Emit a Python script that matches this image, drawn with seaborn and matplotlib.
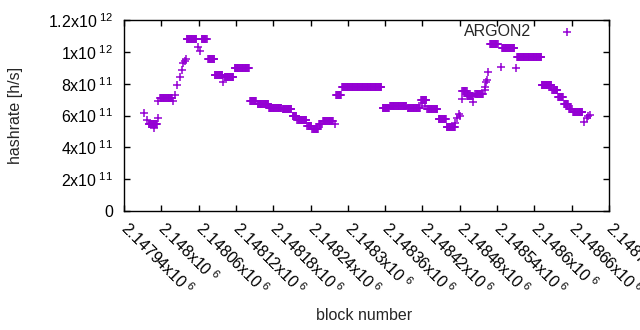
import numpy as np
import pandas as pd
import matplotlib
matplotlib.use("Agg")
import matplotlib.pyplot as plt
from matplotlib.ticker import FuncFormatter
import seaborn as sns

# Plateaus: first block, last block, hashrate (h/s) -- one point per block
run_first = [2147980, 2147998, 2148041, 2148065, 2148075, 2148086, 2148102,
             2148118, 2148143, 2148155, 2148173, 2148195, 2148211, 2148219,
             2148235, 2148243, 2148254, 2148260, 2148281, 2148291, 2148356,
             2148368, 2148396, 2148418, 2148428, 2148446, 2148459, 2148484,
             2148492, 2148505, 2148529, 2148548, 2148572, 2148612, 2148629,
             2148638, 2148648, 2148656, 2148662]
run_last = [2147993, 2148017, 2148056, 2148073, 2148085, 2148098, 2148115,
            2148141, 2148152, 2148172, 2148193, 2148209, 2148217, 2148233,
            2148241, 2148252, 2148258, 2148276, 2148289, 2148354, 2148366,
            2148394, 2148416, 2148426, 2148444, 2148458, 2148472, 2148491,
            2148501, 2148517, 2148541, 2148568, 2148611, 2148627, 2148637,
            2148646, 2148654, 2148660, 2148677]
run_rate = [5.45e11, 7.12e11, 10.80e11, 10.80e11, 9.53e11, 8.52e11, 8.42e11,
            8.96e11, 6.88e11, 6.71e11, 6.47e11, 6.40e11, 5.98e11, 5.72e11,
            5.33e11, 5.18e11, 5.45e11, 5.66e11, 7.28e11, 7.76e11, 6.45e11,
            6.62e11, 6.50e11, 6.95e11, 6.43e11, 5.75e11, 5.28e11, 7.54e11,
            7.25e11, 7.38e11, 10.50e11, 10.22e11, 9.69e11, 7.91e11, 7.60e11,
            7.16e11, 6.70e11, 6.42e11, 6.22e11]

# Single blocks between the plateaus
point_block = [2147972, 2147977, 2147988, 2147995, 2147994, 2148019, 2148022,
               2148025, 2148030, 2148033, 2148035, 2148038, 2148040, 2148059,
               2148063, 2148100, 2148116, 2148279, 2148420, 2148424, 2148473,
               2148475, 2148479, 2148481, 2148483, 2148502, 2148520, 2148521,
               2148522, 2148523, 2148526, 2148546, 2148570, 2148679, 2148684,
               2148687, 2148689]
point_rate = [6.14e11, 5.70e11, 5.22e11, 5.82e11, 6.93e11, 6.93e11, 7.29e11,
              7.91e11, 8.44e11, 8.86e11, 9.28e11, 9.40e11, 9.55e11, 10.32e11,
              10.05e11, 8.12e11, 8.44e11, 5.45e11, 6.80e11, 6.60e11, 5.55e11,
              5.85e11, 6.07e11, 5.95e11, 7.03e11, 6.83e11, 7.60e11, 7.80e11,
              8.10e11, 8.23e11, 8.75e11, 9.06e11, 8.96e11, 5.61e11, 5.82e11,
              5.99e11, 6.03e11]

y_ticks = [0, 2e11, 4e11, 6e11, 8e11, 1e12, 1.2e12]
y_tick_labels = ["0", "2x10$^{\\ 11}$", "4x10$^{\\ 11}$", "6x10$^{\\ 11}$",
                 "8x10$^{\\ 11}$", "1x10$^{\\ 12}$", "1.2x10$^{\\ 12}$"]
x_min, x_max, x_step = 2147940, 2148720, 60

PURPLE = "#9400D3"

# one row per block
blocks, rates = [], []
for first, last, rate in zip(run_first, run_last, run_rate):
    b = np.arange(first, last + 1)
    blocks.extend(b)
    rates.extend([rate] * len(b))
blocks.extend(point_block)
rates.extend(point_rate)
df = pd.DataFrame({"block": blocks, "hashrate": rates})

sns.set_theme(style="ticks")
plt.rcParams["font.family"] = ["Liberation Sans", "DejaVu Sans"]
plt.rcParams["mathtext.fontset"] = "custom"
plt.rcParams["mathtext.rm"] = "Liberation Sans"
plt.rcParams["mathtext.it"] = "Liberation Sans:italic"
plt.rcParams["mathtext.bf"] = "Liberation Sans:bold"
FS = 11.5

fig = plt.figure(figsize=(6.4, 3.3), dpi=100)
ax = fig.add_axes([124 / 640, 1 - 211 / 330, 485 / 640, 191 / 330])

sns.scatterplot(data=df, x="block", y="hashrate", marker="+", color=PURPLE,
                s=36, linewidth=1.1, label="ARGON2", ax=ax)

ax.set_xlim(x_min, x_max)
ax.set_ylim(0, 1.2e12)
ax.set_yticks(y_ticks)
ax.set_yticklabels(y_tick_labels, fontsize=FS)
ax.set_xticks(np.arange(x_min, x_max + 1, x_step))
ax.xaxis.set_major_formatter(FuncFormatter(lambda v, pos: "%gx10$^{\\ 6}$" % (v / 1e6)))
for lab in ax.get_xticklabels():
    lab.set_rotation(-45)
    lab.set_ha("left")
    lab.set_va("center")
    lab.set_rotation_mode("anchor")
    lab.set_fontsize(FS)

ax.tick_params(direction="in", length=4, width=1, top=True, right=True,
               colors="black", pad=8)
ax.tick_params(axis="x", pad=10)
for sp in ax.spines.values():
    sp.set_visible(True)
    sp.set_linewidth(1)
    sp.set_color("black")

ax.set_xlabel("block number", fontsize=FS)
ax.set_ylabel("hashrate [h/s]", fontsize=FS)
ax.xaxis.label.set_va("center")
ax.xaxis.set_label_coords((364 - 124) / 485, (211 - 315) / 191)
ax.yaxis.label.set_va("center")
ax.yaxis.set_label_coords((16 - 124) / 485, (211 - 115) / 191)

leg = ax.legend(loc="center right", bbox_to_anchor=((583 - 124) / 485, (211 - 31.7) / 191),
                frameon=False, markerfirst=False, fontsize=FS, handlelength=2,
                handletextpad=1.25, borderpad=0, borderaxespad=0, markerscale=1.0)

fig.savefig("out.png", dpi=100)
